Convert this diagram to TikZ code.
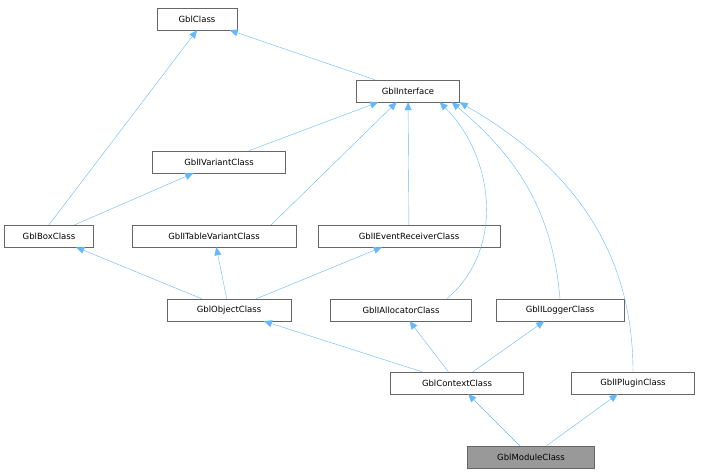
\documentclass[tikz,border=0pt]{standalone}
\usepackage{fontspec}
\setmainfont{DejaVu Sans}
\usetikzlibrary{arrows.meta}

\definecolor{edgeblue}{HTML}{63B8FF}
\definecolor{boxgrey}{HTML}{666666}

\tikzset{
  cls/.style={draw=boxgrey, fill=white, inner sep=0pt, minimum height=22pt,
    font=\fontsize{8.5pt}{10pt}\selectfont},
  inherit/.style={draw=edgeblue, thin, -{Triangle[width=7pt,length=8pt,fill=edgeblue]}},
}

\begin{document}
\begin{tikzpicture}[x=1pt,y=-1pt]
	\useasboundingbox (0,0) rectangle (701,476);
	% classes
	\node[cls, minimum width=80pt]  (gblclass)   at (197,19)  {GblClass};
	\node[cls, minimum width=103pt] (interface)  at (408,91)  {GblInterface};
	\node[cls, minimum width=133pt] (ivariant)   at (219,162) {GblIVariantClass};
	\node[cls, minimum width=89pt]  (box)        at (49,236)  {GblBoxClass};
	\node[cls, minimum width=164pt] (itable)     at (214,236) {GblITableVariantClass};
	\node[cls, minimum width=182pt] (ievent)     at (409,236) {GblIEventReceiverClass};
	\node[cls, minimum width=124pt] (object)     at (229,310) {GblObjectClass};
	\node[cls, minimum width=141pt] (allocator)  at (401,310) {GblIAllocatorClass};
	\node[cls, minimum width=128pt] (logger)     at (560,310) {GblILoggerClass};
	\node[cls, minimum width=133pt] (context)    at (457,383) {GblContextClass};
	\node[cls, minimum width=123pt] (plugin)     at (633,383) {GblIPluginClass};
	\node[cls, minimum width=127pt, fill=black!40] (module) at (531,457) {GblModuleClass};
	% inheritance
	\draw[inherit] (interface) -- (gblclass);
	\draw[inherit] (box.north) -- (gblclass.south);
	\draw[inherit] (ivariant) -- (interface);
	\draw[inherit] (box) -- (ivariant);
	\draw[inherit] ([xshift=-25pt]itable.north east) -- (interface);
	\draw[inherit] (ievent) -- (interface);
	\draw[inherit] ([xshift=-25pt]allocator.north east) to[out=40,in=-45] ([xshift=-20pt]interface.south east);
	\draw[inherit] (logger.north) to[out=95,in=-40] ([xshift=-8pt]interface.south east);
	\draw[inherit] (plugin.north) to[out=90,in=-30] (interface.south east);
	\draw[inherit] (object) -- (box);
	\draw[inherit] (object) -- (itable);
	\draw[inherit] (object) -- (ievent);
	\draw[inherit] (context) -- (object);
	\draw[inherit] (context) -- (allocator);
	\draw[inherit] (context) -- (logger);
	\draw[inherit] (module) -- (context);
	\draw[inherit] (module) -- (plugin);
\end{tikzpicture}
\end{document}
